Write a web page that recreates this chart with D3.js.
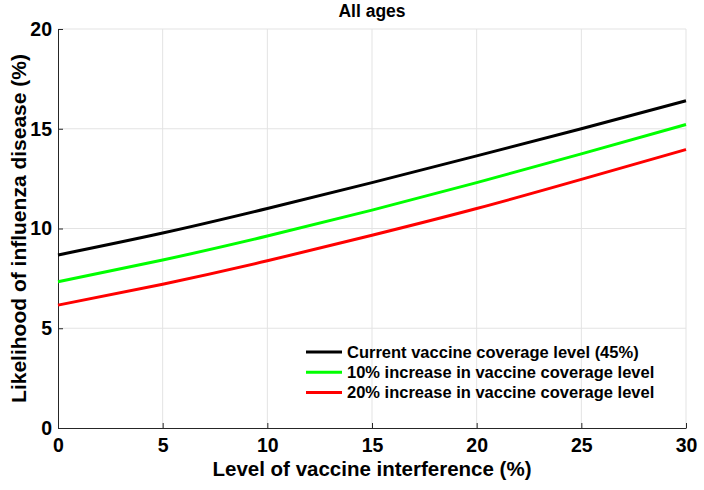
<!DOCTYPE html>
<html>
<head>
<meta charset="utf-8">
<script src="https://d3js.org/d3.v7.min.js"></script>
<style>
  body { margin: 0; background: #fff; }
  svg text { font-family: "Liberation Sans", Arial, Helvetica, sans-serif; font-weight: bold; fill: #000; }
</style>
</head>
<body>
<svg id="chart" width="704" height="490"></svg>
<script>
// ---- data ----
const interference = [0, 5, 10, 15, 20, 25, 30];
const currentCoverage = [8.67, 9.77, 11.0, 12.3, 13.64, 15.0, 16.40];
const increase10 = [7.33, 8.42, 9.62, 10.92, 12.3, 13.74, 15.21];
const increase20 = [6.16, 7.21, 8.38, 9.66, 11.0, 12.46, 13.96];
const seriesNames = [
  "Current vaccine coverage level (45%)",
  "10% increase in vaccine coverage level",
  "20% increase in vaccine coverage level"
];
const seriesColors = ["#000000", "#00ff00", "#ff0000"];
const xTicks = [0, 5, 10, 15, 20, 25, 30];
const yTicks = [0, 5, 10, 15, 20];
const title = "All ages";
const xLabel = "Level of vaccine interference (%)";
const yLabel = "Likelihood of influenza disease (%)";

// ---- layout ----
const svg = d3.select("#chart");
const m = { left: 58, right: 686, top: 29, bottom: 428 };
const x = d3.scaleLinear().domain([0, 30]).range([m.left, m.right]);
const y = d3.scaleLinear().domain([0, 20]).range([m.bottom, m.top]);

// grid
const grid = svg.append("g");
grid.selectAll(".vg").data(xTicks.filter(d => d > 0)).enter().append("line")
  .attr("x1", d => x(d)).attr("x2", d => x(d))
  .attr("y1", y(0)).attr("y2", y(20))
  .attr("stroke", "#e3e3e3").attr("stroke-width", 1);
grid.selectAll(".hg").data(yTicks.filter(d => d > 0)).enter().append("line")
  .attr("x1", x(0)).attr("x2", x(30))
  .attr("y1", d => y(d)).attr("y2", d => y(d))
  .attr("stroke", "#e3e3e3").attr("stroke-width", 1);

// axes
const xAxis = d3.axisBottom(x).tickValues(xTicks).tickSizeInner(-5).tickSizeOuter(0).tickPadding(9);
const yAxis = d3.axisLeft(y).tickValues(yTicks).tickSizeInner(-5).tickSizeOuter(0).tickPadding(6);
const gx = svg.append("g").attr("transform", `translate(0,${m.bottom})`).call(xAxis);
const gy = svg.append("g").attr("transform", `translate(${m.left},0)`).call(yAxis);
[gx, gy].forEach(g => {
  g.select(".domain").attr("stroke", "#262626").attr("stroke-width", 1);
  g.selectAll(".tick line").attr("stroke", "#262626");
  g.selectAll(".tick text").style("font-size", "19.5px").attr("fill", "#000");
});
gx.selectAll(".tick text").attr("dy", "0.78em");
gy.selectAll(".tick text").attr("x", -6);

// lines
const seriesData = [currentCoverage, increase10, increase20];
const line = d3.line()
  .x((d, i) => x(interference[i]))
  .y(d => y(d))
  .curve(d3.curveNatural);
svg.append("g").selectAll("path").data(seriesData).enter().append("path")
  .attr("d", d => line(d))
  .attr("fill", "none")
  .attr("stroke", (d, i) => seriesColors[i])
  .attr("stroke-width", 3);

// title & labels
svg.append("text").attr("x", (m.left + m.right) / 2).attr("y", 17)
  .attr("text-anchor", "middle").style("font-size", "17.5px").text(title);
svg.append("text").attr("x", (m.left + m.right) / 2).attr("y", 476)
  .attr("text-anchor", "middle").style("font-size", "20.5px").text(xLabel);
svg.append("text").attr("transform", `translate(26,${(m.top + m.bottom) / 2}) rotate(-90)`)
  .attr("text-anchor", "middle").style("font-size", "21px").text(yLabel);

// legend
const leg = svg.append("g");
const legRows = leg.selectAll("g").data(seriesNames).enter().append("g")
  .attr("transform", (d, i) => `translate(306,${352 + i * 20.3})`);
legRows.append("line").attr("x1", 0).attr("x2", 36).attr("y1", 0).attr("y2", 0)
  .attr("stroke", (d, i) => seriesColors[i]).attr("stroke-width", 3);
legRows.append("text").attr("x", 41).attr("y", 0).attr("dy", "0.35em")
  .style("font-size", "16.5px").text(d => d);
</script>
</body>
</html>
